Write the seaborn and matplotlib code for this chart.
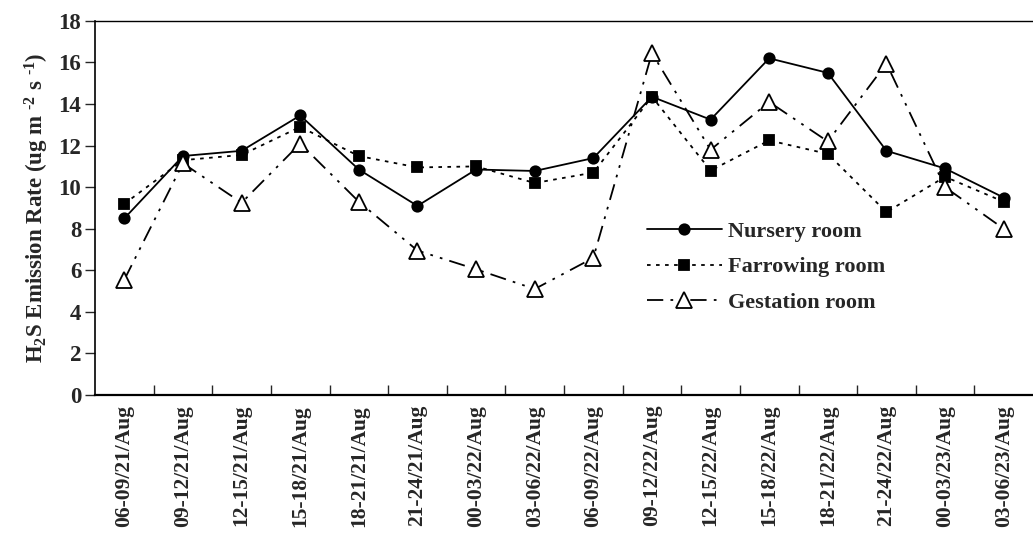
import matplotlib
matplotlib.use('Agg')
import matplotlib.pyplot as plt
import seaborn as sns
import pandas as pd

# Sampling periods (hour ranges / day / month)
periods = ['06-09/21/Aug', '09-12/21/Aug', '12-15/21/Aug', '15-18/21/Aug',
           '18-21/21/Aug', '21-24/21/Aug', '00-03/22/Aug', '03-06/22/Aug',
           '06-09/22/Aug', '09-12/22/Aug', '12-15/22/Aug', '15-18/22/Aug',
           '18-21/22/Aug', '21-24/22/Aug', '00-03/23/Aug', '03-06/23/Aug']

nursery = [8.5, 11.5, 11.75, 13.45, 10.85, 9.1, 10.85, 10.78,
           11.4, 14.35, 13.25, 16.2, 15.5, 11.75, 10.9, 9.5]
farrowing = [9.2, 11.3, 11.55, 12.9, 11.5, 10.95, 11.0, 10.2,
             10.7, 14.35, 10.8, 12.25, 11.6, 8.8, 10.5, 9.3]
gestation = [5.55, 11.15, 9.25, 12.1, 9.3, 6.95, 6.05, 5.1,
             6.6, 16.45, 11.8, 14.1, 12.2, 15.95, 10.0, 8.0]

rooms = ['Nursery room', 'Farrowing room', 'Gestation room']

df = pd.DataFrame({'period': periods * 3,
                   'x': list(range(len(periods))) * 3,
                   'rate': nursery + farrowing + gestation,
                   'room': [r for r in rooms for _ in periods]})

sns.set_style('white')
plt.rcParams['font.family'] = ['Liberation Serif', 'DejaVu Serif']
plt.rcParams['font.weight'] = 'bold'
plt.rcParams['mathtext.fontset'] = 'custom'
plt.rcParams['mathtext.rm'] = 'Liberation Serif:bold'
plt.rcParams['mathtext.bf'] = 'Liberation Serif:bold'
plt.rcParams['mathtext.default'] = 'bf'

fig = plt.figure(figsize=(10.33, 5.36), dpi=100)
ax = fig.add_axes([0.092, 0.263, 0.908, 0.698])

styles = {
    'Nursery room': dict(ls='-', marker='o', mfc='black', ms=7.5),
    'Farrowing room': dict(ls=(0, (2, 3)), marker='s', mfc='black', ms=7),
    'Gestation room': dict(ls=(0, (9, 4, 1.5, 4, 1.5, 4)), marker='^', mfc='white', ms=11),
}

for room in rooms:
    sub = df[df['room'] == room]
    st = styles[room]
    sns.lineplot(data=sub, x='x', y='rate', ax=ax, color='black', lw=1.3,
                 linestyle=st['ls'], marker=st['marker'], markersize=st['ms'],
                 markerfacecolor=st['mfc'], markeredgecolor='black',
                 markeredgewidth=1.3, label=room, zorder=3)

ax.set_xlim(-0.5, len(periods) - 0.5)
ax.set_ylim(0, 18)
ax.set_yticks(range(0, 19, 2))
ax.tick_params(axis='y', direction='out', length=7, width=1, left=True,
               labelsize=16.5, pad=3)
ax.set_xticks([i - 0.5 for i in range(1, len(periods))], minor=True)
ax.set_xticks(range(len(periods)))
ax.set_xticklabels(periods, rotation=90, fontsize=15.5)
ax.tick_params(axis='x', which='major', length=0, pad=7)
ax.tick_params(axis='x', which='minor', direction='in', length=7, width=1, bottom=True)

for side in ['left', 'bottom', 'top']:
    ax.spines[side].set_visible(True)
    ax.spines[side].set_color('black')
ax.spines['left'].set_linewidth(1.2)
ax.spines['bottom'].set_linewidth(1.6)
ax.spines['top'].set_linewidth(1.0)
ax.spines['right'].set_visible(False)

ax.set_xlabel('')
ax.set_ylabel(r'H$_{2}$S Emission Rate (ug m $^{\text{-2}}$ s $^{\text{-1}}$)', fontsize=16.5,
              fontweight='bold', labelpad=5)

leg = ax.legend(loc='center left', bbox_to_anchor=(0.588, 0.342), frameon=False,
                fontsize=16, handlelength=3.4, handletextpad=0.25,
                labelspacing=0.68, borderaxespad=0, borderpad=0)
for t in leg.get_texts():
    t.set_fontweight('bold')

fig.savefig('out.png', dpi=100)
